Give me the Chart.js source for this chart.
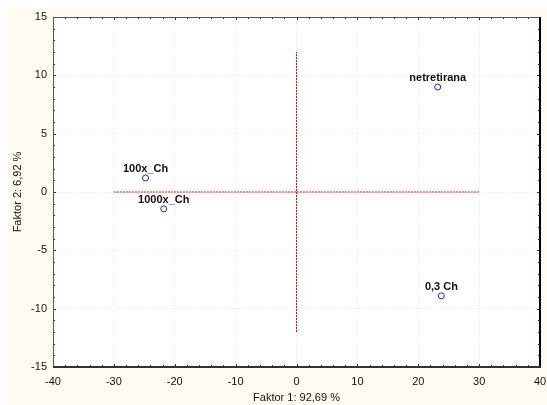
<!DOCTYPE html>
<html>
<head>
<meta charset="utf-8">
<script src="https://cdn.jsdelivr.net/npm/chart.js@4/dist/chart.umd.min.js"></script>
<style>
html,body{margin:0;padding:0;background:#fff;}
#wrap{width:547px;height:405px;position:relative;}
</style>
</head>
<body>
<div id="wrap"><canvas id="c" width="547" height="405"></canvas></div>
<script>
// ---- data ----
const pointLabels = ["netretirana", "0,3 Ch", "100x_Ch", "1000x_Ch"];
const factor1 = [23.2, 23.8, -24.8, -21.8];
const factor2 = [9.0, -8.9, 1.2, -1.45];
const xTicks = [-40, -30, -20, -10, 0, 10, 20, 30, 40];
const yTicks = [-15, -10, -5, 0, 5, 10, 15];
const vLineX = [0, 0];
const vLineY = [-12, 12];
const hLineX = [-30, 30];
const hLineY = [0, 0];
const xTitle = "Faktor 1: 92,69 %";
const yTitle = "Faktor 2: 6,92 %";

const FONT = "'Liberation Sans', Arial, sans-serif";

const bgPlugin = {
  id: 'bg',
  beforeDraw(chart) {
    const ctx = chart.ctx, a = chart.chartArea;
    ctx.save();
    ctx.fillStyle = '#fffbf0';
    ctx.fillRect(7, 8, chart.width - 7, chart.height - 8);
    ctx.fillStyle = '#ffffff';
    ctx.fillRect(a.left, a.top, a.right - a.left, a.bottom - a.top);
    ctx.restore();
  }
};

const framePlugin = {
  id: 'frame',
  afterDatasetsDraw(chart) {
    const ctx = chart.ctx, a = chart.chartArea;
    const xs = chart.scales.x, ys = chart.scales.y;
    ctx.save();
    ctx.strokeStyle = '#333';
    ctx.lineWidth = 1;
    for (let v = -40; v <= 40; v += 2) {
      const px = Math.round(xs.getPixelForValue(v)) + 0.5;
      const len = (v % 10 === 0) ? 3 : 2;
      ctx.beginPath();
      ctx.moveTo(px, a.bottom); ctx.lineTo(px, a.bottom - len);
      ctx.moveTo(px, a.top); ctx.lineTo(px, a.top + len);
      ctx.stroke();
    }
    for (let v = -15; v <= 15; v += 1) {
      const py = Math.round(ys.getPixelForValue(v)) + 0.5;
      const len = (v % 5 === 0) ? 3 : 2;
      ctx.beginPath();
      ctx.moveTo(a.left, py); ctx.lineTo(a.left + len, py);
      ctx.moveTo(a.right, py); ctx.lineTo(a.right - len, py);
      ctx.stroke();
    }
    ctx.lineWidth = 1;
    ctx.strokeStyle = '#555';
    ctx.beginPath();
    ctx.moveTo(a.left + 0.5, a.bottom); ctx.lineTo(a.left + 0.5, a.top + 0.5); ctx.lineTo(a.right, a.top + 0.5);
    ctx.stroke();
    ctx.lineWidth = 2;
    ctx.strokeStyle = '#000';
    ctx.beginPath();
    ctx.moveTo(a.right, a.top); ctx.lineTo(a.right, a.bottom);
    ctx.stroke();
    ctx.strokeStyle = '#333';
    ctx.beginPath();
    ctx.moveTo(a.left, a.bottom); ctx.lineTo(a.right + 1, a.bottom);
    ctx.stroke();
    ctx.restore();
  }
};

const labelPlugin = {
  id: 'ptlabels',
  afterDatasetsDraw(chart) {
    const ctx = chart.ctx;
    const meta = chart.getDatasetMeta(2);
    ctx.save();
    ctx.font = "bold 11px " + FONT;
    ctx.fillStyle = '#111';
    ctx.textAlign = 'center';
    ctx.textBaseline = 'alphabetic';
    meta.data.forEach((el, i) => {
      ctx.fillText(pointLabels[i], el.x, el.y - 6);
    });
    ctx.restore();
  }
};

new Chart(document.getElementById('c'), {
  type: 'scatter',
  data: {
    datasets: [
      {
        data: vLineX.map((x, i) => ({x: x, y: vLineY[i]})),
        showLine: true, borderColor: '#ff0000', borderWidth: 1, borderDash: [2, 1],
        pointRadius: 0
      },
      {
        data: hLineX.map((x, i) => ({x: x, y: hLineY[i]})),
        showLine: true, borderColor: '#ff0000', borderWidth: 1, borderDash: [2, 1],
        pointRadius: 0
      },
      {
        data: factor1.map((x, i) => ({x: x, y: factor2[i]})),
        pointRadius: 3, pointBorderWidth: 1, pointBorderColor: '#2020ff',
        pointBackgroundColor: 'rgba(255,255,255,0)'
      }
    ]
  },
  options: {
    responsive: false,
    animation: false,
    events: [],
    layout: { padding: { left: 7, top: 17, right: 7, bottom: 0 } },
    plugins: { legend: { display: false }, tooltip: { enabled: false } },
    scales: {
      x: {
        type: 'linear', min: -40, max: 40,
        afterBuildTicks(s) { s.ticks = xTicks.map(v => ({value: v})); },
        afterFit(s) { s.height = 38; s.paddingLeft = 0; s.paddingRight = 0; },
        grid: { color: '#e6e6e6', lineWidth: 1, drawTicks: false },
        border: { display: false, dash: [1, 2] },
        ticks: { color: '#111', font: { family: FONT, size: 11 }, padding: 8, maxRotation: 0 },
        title: { display: true, text: xTitle, color: '#111', font: { family: FONT, size: 11 }, padding: { top: 4, bottom: 0 } }
      },
      y: {
        type: 'linear', min: -15, max: 15,
        afterBuildTicks(s) { s.ticks = yTicks.map(v => ({value: v})); },
        afterFit(s) { s.width = 46; s.paddingTop = 0; s.paddingBottom = 0; },
        grid: { color: '#e6e6e6', lineWidth: 1, drawTicks: false },
        border: { display: false, dash: [1, 2] },
        ticks: { color: '#111', font: { family: FONT, size: 11 }, padding: 6 },
        title: { display: true, text: yTitle, color: '#111', font: { family: FONT, size: 11 }, padding: { top: 4, bottom: 0 } }
      }
    }
  },
  plugins: [bgPlugin, framePlugin, labelPlugin]
});
</script>
</body>
</html>
